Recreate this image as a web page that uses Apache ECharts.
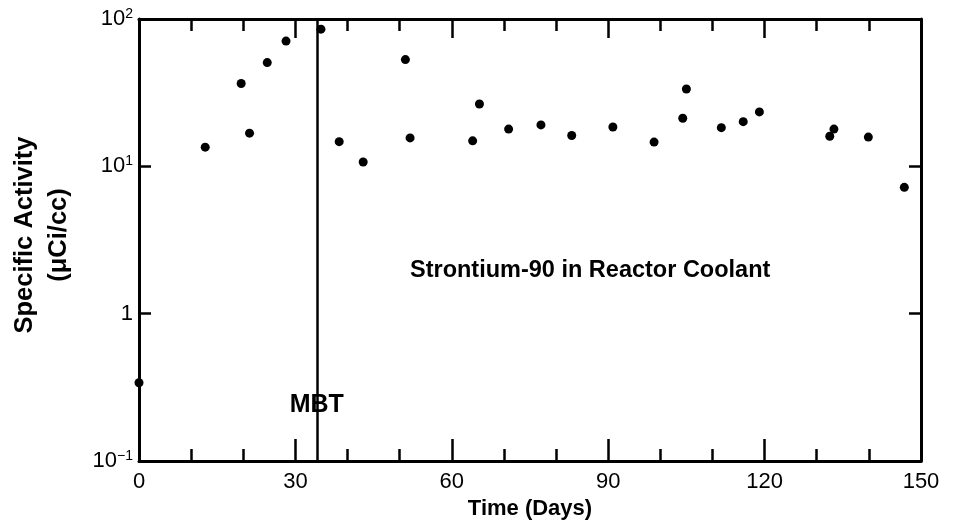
<!DOCTYPE html>
<html>
<head>
<meta charset="utf-8">
<script src="https://cdn.jsdelivr.net/npm/echarts@6/dist/echarts.min.js"></script>
<style>
html,body{margin:0;padding:0;background:#fff;}
#chart{width:958px;height:525px;}
</style>
</head>
<body>
<div id="chart"></div>
<script>
// ---- data ----
var days = [0, 12.7, 19.6, 21.2, 24.6, 28.2, 34.9, 38.4, 43, 51.1, 52, 64, 65.3, 70.9, 77.1, 83, 90.9, 98.8, 104.3, 105, 111.7, 115.9, 119, 132.5, 133.3, 139.9, 146.8];
var activity = [0.34, 13.5, 36.5, 16.8, 50.6, 70.8, 85.3, 14.7, 10.7, 53, 15.6, 14.9, 26.5, 17.9, 19.1, 16.2, 18.5, 14.6, 21.2, 33.5, 18.3, 20.1, 23.4, 16.0, 17.9, 15.8, 7.2];
var xTickLabels = ['0', '30', '60', '90', '120', '150'];
var mbtDay = 34.1;
var mbtLabel = 'MBT';
var mbtLabelLevel = 0.24;
var chartLabel = 'Strontium-90 in Reactor Coolant';
var xTitle = 'Time (Days)';
var yTitle = 'Specific Activity\n(\u03bcCi/cc)';

var FONT = 'Liberation Sans, Arial, sans-serif';
var points = days.map(function (d, i) { return [d, activity[i]]; });

function yLabel(v) {
  var e = Math.round(Math.log10(v));
  if (e === 0) return '{b|1}';
  return '{b|10}{s|' + (e < 0 ? '\u2212' + (-e) : e) + '}';
}

var chart = echarts.init(document.getElementById('chart'), null, {renderer: 'canvas'});
chart.setOption({
  backgroundColor: '#ffffff',
  animation: false,
  title: {
    text: chartLabel,
    left: 405, top: 254,
    textStyle: {fontFamily: FONT, fontWeight: 'bold', fontSize: 23.5, color: '#000'}
  },
  grid: {left: 139, right: 37, top: 19, bottom: 64, containLabel: false, outerBoundsMode: 'none'},
  xAxis: [{
    type: 'value', min: 0, max: 150, interval: 30, position: 'bottom',
    name: xTitle, nameLocation: 'middle', nameGap: 36,
    nameTextStyle: {fontFamily: FONT, fontWeight: 'bold', fontSize: 22, color: '#000'},
    axisLine: {show: true, onZero: false, lineStyle: {color: '#000', width: 3}},
    axisTick: {show: true, inside: true, length: 22, lineStyle: {color: '#000', width: 2.5}},
    minorTick: {show: true, splitNumber: 3, length: 12, lineStyle: {color: '#000', width: 2.5}},
    splitLine: {show: false},
    axisLabel: {fontFamily: FONT, fontSize: 22, color: '#000', margin: 10,
      formatter: function (v) { var i = Math.round(v / 30); return xTickLabels[i]; }}
  }, {
    type: 'value', min: 0, max: 150, interval: 30, position: 'top',
    axisLine: {show: true, onZero: false, lineStyle: {color: '#000', width: 3}},
    axisTick: {show: true, inside: true, length: 19, lineStyle: {color: '#000', width: 2.5}},
    minorTick: {show: true, splitNumber: 3, length: 12, lineStyle: {color: '#000', width: 2.5}},
    splitLine: {show: false},
    axisLabel: {show: false}
  }],
  yAxis: [{
    type: 'log', logBase: 10, min: 0.1, max: 100, position: 'left',
    name: yTitle, nameLocation: 'middle', nameGap: 63, nameRotate: 90,
    nameTextStyle: {fontFamily: FONT, fontWeight: 'bold', fontSize: 25.5, color: '#000', lineHeight: 34, padding: [0, 0, 0, 10]},
    axisLine: {show: true, onZero: false, lineStyle: {color: '#000', width: 3}},
    axisTick: {show: true, inside: true, length: 12, lineStyle: {color: '#000', width: 2.5}},
    splitLine: {show: false},
    axisLabel: {
      margin: 6, color: '#000',
      formatter: yLabel,
      rich: {
        b: {fontFamily: FONT, fontSize: 22, color: '#000', lineHeight: 24},
        s: {fontFamily: FONT, fontSize: 14, color: '#000', lineHeight: 14, verticalAlign: 'top'}
      }
    }
  }, {
    type: 'log', logBase: 10, min: 0.1, max: 100, position: 'right',
    axisLine: {show: true, onZero: false, lineStyle: {color: '#000', width: 3}},
    axisTick: {show: true, inside: true, length: 12, lineStyle: {color: '#000', width: 2.5}},
    splitLine: {show: false},
    axisLabel: {show: false}
  }],
  series: [{
    type: 'scatter',
    xAxisIndex: 0, yAxisIndex: 0,
    data: points,
    symbol: 'circle', symbolSize: 9,
    itemStyle: {color: '#000', opacity: 1},
    clip: false,
    silent: true,
    markLine: {
      silent: true, symbol: 'none', animation: false,
      lineStyle: {color: '#000', width: 2.5, type: 'solid'},
      label: {show: false},
      data: [{xAxis: mbtDay}]
    },
    markPoint: {
      silent: true, animation: false,
      symbol: 'circle', symbolSize: 0,
      data: [{coord: [mbtDay, mbtLabelLevel], value: mbtLabel}],
      label: {show: true, position: 'inside', formatter: mbtLabel,
        fontFamily: FONT, fontWeight: 'bold', fontSize: 25, color: '#000'}
    }
  }]
});
</script>
</body>
</html>
